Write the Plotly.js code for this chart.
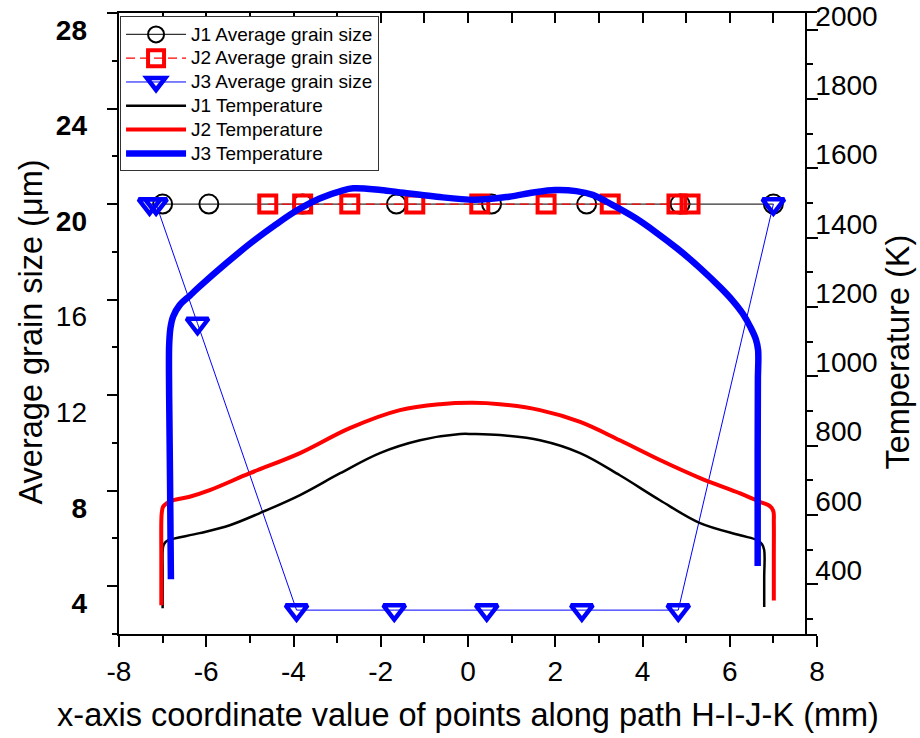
<!DOCTYPE html>
<html>
<head>
<meta charset="utf-8">
<script src="https://cdn.plot.ly/plotly-3.0.1.min.js"></script>
<style>
  html, body { margin: 0; padding: 0; background: #fff; }
  #chart { width: 920px; height: 738px; }
</style>
</head>
<body>
<div id="chart"></div>
<script>
// Average grain size (μm) of the three joints along path H-I-J-K
const j1GrainX = [-7.0, -5.94, -3.79, -1.64, 0.54, 2.72, 4.86, 7.0];
const j1GrainY = [20, 20, 20, 20, 20, 20, 20, 20];
const j2GrainX = [-4.59, -3.79, -2.71, -1.22, 0.27, 1.79, 3.26, 4.79, 5.09];
const j2GrainY = [20, 20, 20, 20, 20, 20, 20, 20, 20];
const j3GrainX = [-7.3, -7.15, -6.2, -3.93, -1.69, 0.43, 2.61, 4.82, 7.0];
const j3GrainY = [20, 20, 15, 3, 3, 3, 3, 3, 20];

// Peak temperature (K) along the same path
const j1TempX = [-7.0, -7.0, -7.0, -6.98, -6.93, -6.87, -6.15, -5.46, -4.77, -3.85, -2.93, -2.02, -1.10, -0.18, 0.11, 0.73, 1.65, 2.57, 3.48, 4.40, 5.32, 6.24, 6.63, 6.74, 6.79, 6.79, 6.79];
const j1TempT = [290, 400, 455, 472, 482, 487, 507, 530, 565, 617, 680, 738, 775, 793, 793, 790, 775, 738, 674, 602, 536, 501, 487, 475, 458, 380, 294];
const j2TempX = [-7.03, -7.03, -7.03, -7.02, -6.99, -6.91, -6.76, -6.38, -5.92, -5.00, -3.85, -2.71, -1.56, -0.64, 0.11, 0.73, 1.65, 2.57, 3.48, 4.40, 5.32, 6.24, 6.70, 6.92, 7.0, 7.01, 7.01, 7.01];
const j2TempT = [299, 430, 540, 565, 583, 593, 602, 612, 631, 680, 738, 810, 862, 879, 883, 879, 862, 828, 775, 718, 666, 622, 597, 585, 570, 540, 430, 313];
const j3TempX = [-6.81, -6.83, -6.85, -6.85, -6.82, -6.76, -6.61, -6.38, -6.15, -5.55, -4.95, -4.40, -3.90, -3.40, -2.90, -2.63, -2.00, -1.48, -0.80, 0.16, 0.94, 1.50, 1.99, 2.48, 2.86, 3.30, 3.83, 4.30, 4.80, 5.32, 5.80, 6.08, 6.30, 6.48, 6.60, 6.65, 6.645, 6.64, 6.64];
const j3TempT = [374, 660, 900, 1050, 1100, 1132, 1165, 1192, 1219, 1285, 1347, 1398, 1440, 1473, 1495, 1502, 1497, 1489, 1479, 1469, 1478, 1490, 1497, 1494, 1483, 1455, 1417, 1376, 1328, 1272, 1214, 1176, 1140, 1100, 1066, 1035, 949, 747, 412];

// Tick labels
const xTickVals = [-8, -6, -4, -2, 0, 2, 4, 6, 8];
const xTickText = ['-8', '-6', '-4', '-2', '0', '2', '4', '6', '8'];
const grainTickVals = [4, 8, 12, 16, 20, 24, 28];
const grainTickText = ['<b>4</b>', '<b>8</b>', '12', '16', '<b>20</b>', '<b>24</b>', '<b>28</b>'];
const tempTickVals = [400, 600, 800, 1000, 1200, 1400, 1600, 1800, 2000];
const tempTickText = ['400', '600', '800', '1000', '1200', '1400', '1600', '1800', '2000'];

const FONT = 'Liberation Sans, Arial, Helvetica, sans-serif';
const BLACK = '#000000', RED = '#ff0000', BLUE = '#0000ff';
const TICK_SIZE = 28;
const legendName = s => '<span style="font-size:19px">' + s + '</span>';

const traces = [
  { name: legendName('J1 Average grain size'), x: j1GrainX, y: j1GrainY, xaxis: 'x', yaxis: 'y',
    mode: 'lines+markers', line: { color: '#333333', width: 1.2 },
    marker: { symbol: 'circle-open', size: 19, color: BLACK, line: { width: 2, color: BLACK } } },
  { name: legendName('J2 Average grain size'), x: j2GrainX, y: j2GrainY, xaxis: 'x', yaxis: 'y',
    mode: 'lines+markers', line: { color: RED, width: 1.2, dash: '9px,5px' },
    marker: { symbol: 'square-open', size: 17, color: RED, line: { width: 4, color: RED } } },
  { name: legendName('J3 Average grain size'), x: j3GrainX, y: j3GrainY, xaxis: 'x', yaxis: 'y',
    mode: 'lines+markers', line: { color: BLUE, width: 1 },
    marker: { symbol: 'triangle-down-open', size: 19, color: BLUE, line: { width: 4.5, color: BLUE } } },
  { name: legendName('J1 Temperature'), x: j1TempX, y: j1TempT, xaxis: 'x', yaxis: 'y2',
    mode: 'lines', line: { color: BLACK, width: 2.5, shape: 'spline', smoothing: 1 } },
  { name: legendName('J2 Temperature'), x: j2TempX, y: j2TempT, xaxis: 'x', yaxis: 'y2',
    mode: 'lines', line: { color: RED, width: 4, shape: 'spline', smoothing: 1 } },
  { name: legendName('J3 Temperature'), x: j3TempX, y: j3TempT, xaxis: 'x', yaxis: 'y2',
    mode: 'lines', line: { color: BLUE, width: 6.5, shape: 'spline', smoothing: 1 } },
  // frame helpers: top tick axis, left label axis, right tick axis (no data)
  { x: [], y: [], xaxis: 'x2', yaxis: 'y', mode: 'lines', showlegend: false, hoverinfo: 'skip' },
  { x: [], y: [], xaxis: 'x', yaxis: 'y3', mode: 'lines', showlegend: false, hoverinfo: 'skip' },
  { x: [], y: [], xaxis: 'x', yaxis: 'y4', mode: 'lines', showlegend: false, hoverinfo: 'skip' }
];

const RIGHT_POS = 0.9847;

const layout = {
  width: 920, height: 738,
  margin: { l: 119, r: 103, t: 13, b: 104, pad: 0 },
  paper_bgcolor: '#ffffff', plot_bgcolor: '#ffffff',
  font: { family: FONT, color: BLACK },
  showlegend: true,
  xaxis: {
    range: [-8, 8], anchor: 'y', side: 'bottom',
    tickmode: 'array', tickvals: xTickVals, ticktext: xTickText,
    ticks: 'outside', ticklen: 11, tickwidth: 2, tickcolor: BLACK,
    minor: { ticks: 'outside', ticklen: 7, tickwidth: 2, tickcolor: BLACK, dtick: 1, tick0: 0, showgrid: false },
    showline: true, linewidth: 2, linecolor: BLACK, showgrid: false, zeroline: false,
    tickfont: { family: FONT, size: TICK_SIZE, color: BLACK },
    title: { text: 'x-axis coordinate value of points along path H-I-J-K (mm)', font: { family: FONT, size: 32.5, color: BLACK }, standoff: 18 },
    automargin: false
  },
  xaxis2: {
    range: [-8, 8], overlaying: 'x', anchor: 'y', side: 'top',
    tick0: 0, dtick: 1, ticks: 'inside', ticklen: 10, tickwidth: 2, tickcolor: BLACK,
    showticklabels: false, showline: true, linewidth: 2, linecolor: BLACK,
    showgrid: false, zeroline: false, automargin: false
  },
  yaxis: {
    range: [2, 28], anchor: 'x', side: 'left',
    tick0: 0, dtick: 4, ticks: 'outside', ticklen: 10, tickwidth: 2, tickcolor: BLACK,
    minor: { ticks: 'outside', ticklen: 5, tickwidth: 2, tickcolor: BLACK, dtick: 2, tick0: 0, showgrid: false },
    showticklabels: false, showline: true, linewidth: 2, linecolor: BLACK,
    showgrid: false, zeroline: false, automargin: false
  },
  yaxis3: {
    range: [2.7125, 28.7125], overlaying: 'y', anchor: 'x', side: 'left',
    tickmode: 'array', tickvals: grainTickVals, ticktext: grainTickText,
    ticks: '', showline: false, showgrid: false, zeroline: false,
    tickfont: { family: FONT, size: TICK_SIZE, color: BLACK }, ticklabelstandoff: 31, automargin: false
  },
  yaxis2: {
    range: [216, 2008], overlaying: 'y', anchor: 'free', position: RIGHT_POS, side: 'right',
    tickmode: 'array', tickvals: tempTickVals, ticktext: tempTickText,
    ticks: '', showline: false, showgrid: false, zeroline: false,
    tickfont: { family: FONT, size: TICK_SIZE, color: BLACK }, ticklabelstandoff: 8, automargin: false
  },
  yaxis4: {
    range: [256.4, 2048.4], overlaying: 'y', anchor: 'free', position: RIGHT_POS, side: 'right',
    tick0: 0, dtick: 200, ticks: 'outside', ticklen: 11, tickwidth: 2, tickcolor: BLACK,
    minor: { ticks: 'outside', ticklen: 6, tickwidth: 2, tickcolor: BLACK, dtick: 100, tick0: 0, showgrid: false },
    showticklabels: false, showline: true, linewidth: 2, linecolor: BLACK,
    showgrid: false, zeroline: false, automargin: false
  },
  legend: {
    x: 0.0015, y: 0.9944, xanchor: 'left', yanchor: 'top',
    bgcolor: '#ffffff', bordercolor: '#333333', borderwidth: 1,
    font: { family: FONT, size: 16, color: BLACK },
    itemwidth: 60, tracegroupgap: 0
  },
  annotations: [
    { text: 'Average grain size (μm)', xref: 'paper', yref: 'paper', x: -0.1275, y: 0.4855,
      xanchor: 'center', yanchor: 'middle', textangle: -90, showarrow: false,
      font: { family: FONT, size: 32.5, color: BLACK } },
    { text: 'Temperature (K)', xref: 'paper', yref: 'paper', x: 1.116, y: 0.4549,
      xanchor: 'center', yanchor: 'middle', textangle: -90, showarrow: false,
      font: { family: FONT, size: 32.5, color: BLACK } }
  ]
};

Plotly.newPlot('chart', traces, layout, { displayModeBar: false, staticPlot: true });
</script>
</body>
</html>
